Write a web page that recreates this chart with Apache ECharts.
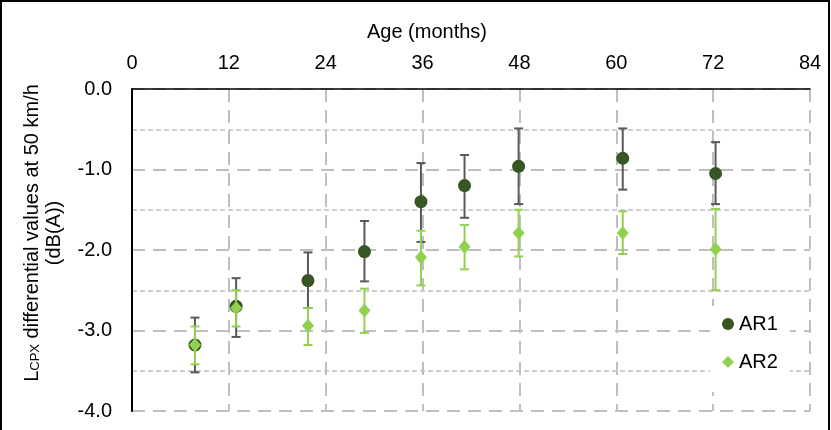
<!DOCTYPE html>
<html>
<head>
<meta charset="utf-8">
<script src="https://cdn.jsdelivr.net/npm/echarts@6/dist/echarts.min.js"></script>
<style>
html,body{margin:0;padding:0;background:#fff;}
#chart{width:831px;height:430px;}
</style>
</head>
<body>
<div id="chart"></div>
<script>
// ---- data ----
const months   = [7.8, 12.9, 21.8, 28.8, 35.8, 41.2, 47.9, 60.8, 72.3];
const ar1      = [-3.18, -2.70, -2.38, -2.02, -1.40, -1.20, -0.96, -0.86, -1.05];
const ar1Low   = [-3.52, -3.08, -2.72, -2.39, -1.90, -1.60, -1.43, -1.25, -1.43];
const ar1High  = [-2.84, -2.35, -2.03, -1.64, -0.92, -0.82, -0.49, -0.49, -0.66];
const ar2      = [-3.18, -2.72, -2.94, -2.75, -2.09, -1.96, -1.79, -1.79, -1.99];
const ar2Low   = [-3.42, -2.95, -3.18, -3.03, -2.44, -2.24, -2.08, -2.05, -2.50];
const ar2High  = [-2.95, -2.50, -2.72, -2.48, -1.76, -1.69, -1.50, -1.52, -1.49];
const xTitle = 'Age (months)';
const seriesNames = ['AR1', 'AR2'];

const FONT = '"Liberation Sans", Arial, sans-serif';
const C1 = '#375623', C2 = '#92D050', ERR1 = '#595959', GRID = '#BFBFBF';

function pts(xs, ys) { return xs.map((x, i) => [x, ys[i]]); }
function errData(xs, lo, hi) { return xs.map((x, i) => [x, lo[i], hi[i]]); }
function errRender(color) {
  return function (params, api) {
    const x = api.value(0);
    const pLo = api.coord([x, api.value(1)]);
    const pHi = api.coord([x, api.value(2)]);
    const hw = 4.5;
    const st = { stroke: color, lineWidth: 2 };
    return {
      type: 'group',
      children: [
        { type: 'line', shape: { x1: pLo[0], y1: pLo[1], x2: pHi[0], y2: pHi[1] }, style: st },
        { type: 'line', shape: { x1: pLo[0] - hw, y1: pLo[1], x2: pLo[0] + hw, y2: pLo[1] }, style: st },
        { type: 'line', shape: { x1: pHi[0] - hw, y1: pHi[1], x2: pHi[0] + hw, y2: pHi[1] }, style: st }
      ]
    };
  };
}

const chart = echarts.init(document.getElementById('chart'), null, { renderer: 'canvas' });
chart.setOption({
  animation: false,
  backgroundColor: '#fff',
  textStyle: { fontFamily: FONT },
  grid: { left: 132, top: 89, right: 21, bottom: 19, containLabel: false },
  xAxis: {
    type: 'value', position: 'top', min: 0, max: 84, interval: 12,
    axisLine: { show: true, onZero: false, lineStyle: { color: '#000', width: 1.5 } },
    axisTick: { show: false },
    axisLabel: { fontSize: 20, color: '#000', margin: 16, fontFamily: FONT },
    splitLine: { show: true, lineStyle: { color: GRID, width: 2, type: [13, 8] } }
  },
  yAxis: {
    type: 'value', min: -4, max: 0, interval: 1,
    axisLine: { show: true, lineStyle: { color: '#000', width: 2 } },
    axisTick: { show: false },
    minorTick: { show: false, splitNumber: 2 },
    axisLabel: { fontSize: 20, color: '#000', margin: 20, fontFamily: FONT,
      formatter: v => v.toFixed(1) },
    splitLine: { show: true, lineStyle: { color: GRID, width: 2, type: [13, 8] } },
    minorSplitLine: { show: true, lineStyle: { color: GRID, width: 1.5, type: [5, 3] } }
  },
  legend: {
    data: [
      { name: seriesNames[0], icon: 'circle' },
      { name: seriesNames[1], icon: 'diamond' }
    ],
    orient: 'vertical', left: 710, top: 306,
    padding: [7, 12, 19, 12],
    itemWidth: 12, itemHeight: 12, itemGap: 16,
    backgroundColor: '#fff',
    textStyle: { fontSize: 20, color: '#000', lineHeight: 22, fontFamily: FONT }
  },
  graphic: [
    { type: 'rect', silent: true, z: 100,
      shape: { x: 1, y: 1, width: 828, height: 445 },
      style: { fill: 'none', stroke: '#000', lineWidth: 2 } },
    { type: 'text', x: 427, y: 32, z: 100,
      style: { text: xTitle, fontSize: 20, fontFamily: FONT, fill: '#000',
        align: 'center', verticalAlign: 'middle' } },
    { type: 'text', x: 31, y: 233, rotation: Math.PI / 2, z: 100,
      style: {
        text: '{n|L}{s|CPX}{n| differential values at 50 km/h}',
        align: 'center', verticalAlign: 'middle',
        rich: {
          n: { fontSize: 20, fontFamily: FONT, fill: '#000', lineHeight: 22, verticalAlign: 'bottom' },
          s: { fontSize: 13, fontFamily: FONT, fill: '#000', lineHeight: 22, verticalAlign: 'bottom' }
        }
      } },
    { type: 'text', x: 54, y: 233, rotation: Math.PI / 2, z: 100,
      style: { text: '(dB(A))', fontSize: 20, fontFamily: FONT, fill: '#000',
        align: 'center', verticalAlign: 'middle' } }
  ],
  series: [
    { name: 'AR1 err', type: 'custom', renderItem: errRender(ERR1),
      data: errData(months, ar1Low, ar1High), z: 2, silent: true },
    { name: seriesNames[0], type: 'scatter', data: pts(months, ar1),
      symbol: 'circle', symbolSize: 13, itemStyle: { color: C1, opacity: 1 }, z: 3 },
    { name: 'AR2 err', type: 'custom', renderItem: errRender(C2),
      data: errData(months, ar2Low, ar2High), z: 4, silent: true },
    { name: seriesNames[1], type: 'scatter', data: pts(months, ar2),
      symbol: 'diamond', symbolSize: [12, 14], itemStyle: { color: C2, opacity: 1 }, z: 5 }
  ]
});
</script>
</body>
</html>
